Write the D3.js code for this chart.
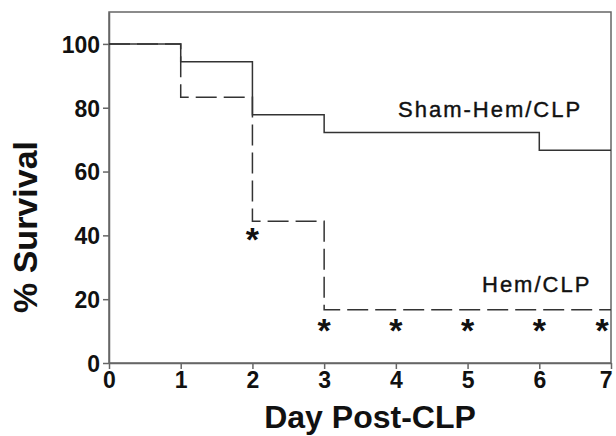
<!DOCTYPE html>
<html><head><meta charset="utf-8">
<script src="https://cdn.jsdelivr.net/npm/d3@7"></script>
<style>body{margin:0;background:#fff}svg{display:block}text{font-family:"Liberation Sans",Arial,sans-serif;fill:#111}</style>
</head><body>
<script>
const days = [0,1,2,3,4,5,6,7];
const shamSurvival = [100,94.4,77.8,72.2,72.2,72.2,66.7,66.7];
const hemSurvival  = [100,83.3,44.4,16.7,16.7,16.7,16.7,16.7];
const xTicks = [0,1,2,3,4,5,6,7];
const yTicks = [0,20,40,60,80,100];
const starDays = [2,3,4,5,6,7];
const starValues = [40,11.5,11.5,11.5,11.5,11.5];
const seriesLabels = ["Sham-Hem/CLP","Hem/CLP"];

const W=616,H=436;
const m={l:109,r:5,t:12,b:73};
const svg=d3.select("body").append("svg").attr("width",W).attr("height",H);
const x=d3.scaleLinear().domain([0,7]).range([m.l,W-m.r]);
const y=d3.scaleLinear().domain([0,110]).range([H-m.b,m.t]);

svg.append("rect").attr("x",x(0)).attr("y",y(110)).attr("width",x(7)-x(0)).attr("height",y(0)-y(110))
  .attr("fill","none").attr("stroke","#666").attr("stroke-width",1.5);

const xa=svg.append("g").attr("transform",`translate(0,${y(0)})`)
  .call(d3.axisBottom(x).tickValues(xTicks).tickFormat(d3.format("d")).tickSize(6).tickSizeOuter(0).tickPadding(3));
const ya=svg.append("g").attr("transform",`translate(${x(0)},0)`)
  .call(d3.axisLeft(y).tickValues(yTicks).tickFormat(d3.format("d")).tickSize(6).tickSizeOuter(0).tickPadding(3));
[xa,ya].forEach(a=>{a.select(".domain").attr("stroke","#666").attr("stroke-width",1.5);
  a.selectAll(".tick line").attr("stroke","#666").attr("stroke-width",1.5);
  a.selectAll("text").style("font-size","23px").style("font-weight","bold").attr("fill","#111");});
ya.selectAll("text").attr("dy","0.36em");
xa.selectAll(".tick").filter(d=>d===7).select("text").attr("text-anchor","end").attr("dx","0.05em");

const line=d3.line().x((d,i)=>x(days[i])).y(d=>y(d)).curve(d3.curveStepAfter);
svg.append("path").datum(shamSurvival).attr("d",line).attr("fill","none").attr("stroke","#333").attr("stroke-width",1.5);
svg.append("path").datum(hemSurvival).attr("d",line).attr("fill","none").attr("stroke","#333").attr("stroke-width",1.5)
  .attr("stroke-dasharray","21,7");

svg.selectAll(".star").data(starDays).enter().append("text")
  .attr("x",d=>Math.min(x(d),W-m.r-9)).attr("y",(d,i)=>y(starValues[i])+16).attr("text-anchor","middle")
  .style("font-size","34px").style("font-weight","bold").text("*");

svg.append("text").attr("x",398).attr("y",117)
  .style("font-size","22px").style("letter-spacing","2px").attr("stroke","#111").attr("stroke-width",0.4).text(seriesLabels[0]);
svg.append("text").attr("x",482).attr("y",292)
  .style("font-size","22px").style("letter-spacing","2px").attr("stroke","#111").attr("stroke-width",0.4).text(seriesLabels[1]);

svg.append("text").attr("x",370).attr("y",428).attr("text-anchor","middle")
  .style("font-size","32px").style("font-weight","bold").text("Day Post-CLP");
svg.append("text").attr("transform","translate(37,227) rotate(-90)").attr("text-anchor","middle")
  .style("font-size","34px").style("font-weight","bold").text("% Survival");
</script>
</body></html>
